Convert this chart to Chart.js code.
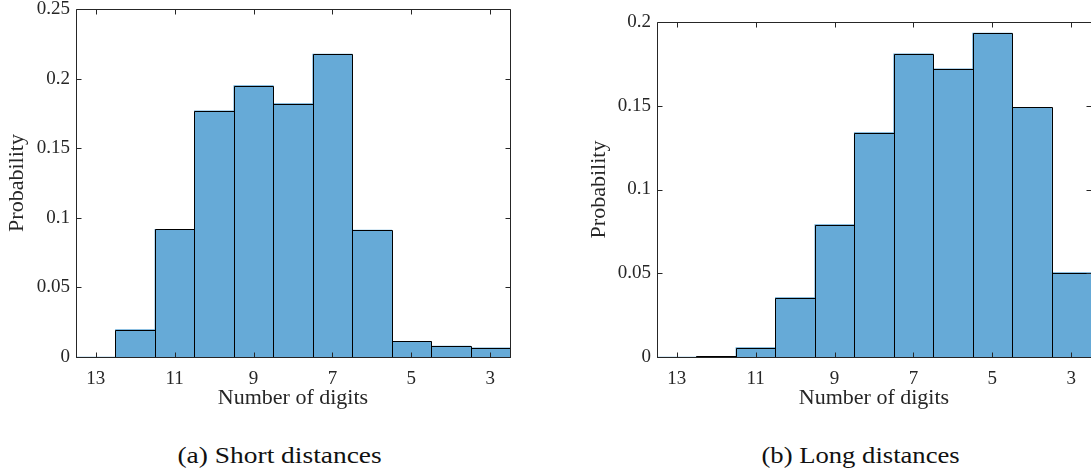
<!DOCTYPE html>
<html>
<head>
<meta charset="utf-8">
<script src="https://cdn.jsdelivr.net/npm/chart.js@4.4.1/dist/chart.umd.min.js"></script>
<style>
  html, body { margin: 0; padding: 0; background: #fff; }
  body { width: 1091px; height: 475px; position: relative; overflow: hidden; }
  canvas { position: absolute; }
  .cap { position: absolute; top: 443px; font-family: "Liberation Serif", serif; font-size: 23px; color: #111;
         white-space: nowrap; transform-origin: center center; }
</style>
</head>
<body>
<canvas id="chartA" width="545" height="420" style="left:0;top:0;"></canvas>
<canvas id="chartB" width="511" height="420" style="left:580px;top:0;"></canvas>
<div class="cap" id="capA">(a) Short distances</div>
<div class="cap" id="capB">(b) Long distances</div>
<script>
// ---- data ----
const digits = [13, 12, 11, 10, 9, 8, 7, 6, 5, 4, 3];
const shortProb = [0, 0.0197, 0.0917, 0.1768, 0.195, 0.182, 0.2176, 0.0912, 0.0113, 0.0079, 0.0065];
const longProb  = [0, 0.0004, 0.0056, 0.0355, 0.0791, 0.134, 0.181, 0.172, 0.1934, 0.149, 0.0504];
const xTickValues = [13, 11, 9, 7, 5, 3];
const yTicksShort = [0, 0.05, 0.1, 0.15, 0.2, 0.25];
const yTicksLong  = [0, 0.05, 0.1, 0.15, 0.2];
const xTitle = 'Number of digits';
const yTitle = 'Probability';

const FONT = '"Liberation Serif", "Times New Roman", serif';
const AXIS_COLOR = '#262626';

const boxPlugin = {
  id: 'boxPlugin',
  afterDatasetsDraw(chart) {
    const { ctx, chartArea: a, scales: { x, y } } = chart;
    ctx.save();
    // bar outlines (from library-computed elements)
    ctx.strokeStyle = '#000';
    ctx.lineWidth = 1;
    const meta = chart.getDatasetMeta(0);
    meta.data.forEach(bar => {
      const p = bar.getProps(['x', 'y', 'base', 'width'], true);
      const l = Math.round(Math.min(p.x - p.width / 2, p.x + p.width / 2)) + 0.5;
      const r = Math.round(Math.max(p.x - p.width / 2, p.x + p.width / 2)) + 0.5;
      const t = Math.round(Math.min(p.y, p.base)) + 0.5;
      const b = Math.round(Math.max(p.y, p.base)) + 0.5;
      ctx.beginPath();
      ctx.rect(l, t, r - l, b - t);
      ctx.stroke();
    });
    // axes box + inward ticks
    ctx.strokeStyle = AXIS_COLOR;
    const L = Math.round(a.left) + 0.5, R = Math.round(a.right) + 0.5;
    const T = Math.round(a.top) + 0.5, B = Math.round(a.bottom) + 0.5;
    ctx.beginPath();
    ctx.rect(L, T, R - L, B - T);
    const tl = 5;
    x.ticks.forEach(tk => {
      const px = Math.round(x.getPixelForValue(tk.value)) + 0.5;
      ctx.moveTo(px, B); ctx.lineTo(px, B - tl);
      ctx.moveTo(px, T); ctx.lineTo(px, T + tl);
    });
    y.ticks.forEach(tk => {
      const py = Math.round(y.getPixelForValue(tk.value)) + 0.5;
      ctx.moveTo(L, py); ctx.lineTo(L + tl, py);
      ctx.moveTo(R, py); ctx.lineTo(R - tl, py);
    });
    ctx.stroke();
    ctx.restore();
  }
};

function makeChart(id, values, yTicks, yMax, opts) {
  return new Chart(document.getElementById(id), {
    type: 'bar',
    data: {
      datasets: [{
        data: digits.map((d, i) => ({ x: d, y: values[i] })),
        backgroundColor: 'rgb(102,170,215)',
        borderWidth: 0,
        barPercentage: 1,
        categoryPercentage: 1
      }]
    },
    options: {
      responsive: false,
      animation: false,
      events: [],
      layout: { padding: opts.padding },
      plugins: { legend: { display: false }, tooltip: { enabled: false } },
      scales: {
        x: {
          type: 'linear',
          reverse: true,
          min: 2.5,
          max: 13.5,
          offset: false,
          afterBuildTicks: s => { s.ticks = xTickValues.map(v => ({ value: v })); },
          afterFit: s => { s.height = 63; s.paddingLeft = 0; s.paddingRight = 0; },
          grid: { display: false, drawTicks: false },
          border: { display: false },
          ticks: {
            padding: 11,
            color: AXIS_COLOR,
            font: { family: FONT, size: 19 },
            maxRotation: 0,
            autoSkip: false,
            callback: v => String(v)
          },
          title: {
            display: true, text: xTitle, color: AXIS_COLOR,
            font: { family: FONT, size: 22 },
            padding: { top: 0, bottom: 9 }
          }
        },
        y: {
          min: 0,
          max: yMax,
          afterBuildTicks: s => { s.ticks = yTicks.map(v => ({ value: v })); },
          afterFit: s => { s.width = opts.yWidth; s.paddingTop = 0; s.paddingBottom = 0; },
          grid: { display: false, drawTicks: false },
          border: { display: false },
          ticks: {
            padding: 6,
            color: AXIS_COLOR,
            font: { family: FONT, size: 19 },
            callback: v => String(v)
          },
          title: {
            display: true, text: yTitle, color: AXIS_COLOR,
            font: { family: FONT, size: 22 },
            padding: { top: opts.titlePad, bottom: 0 }
          }
        }
      }
    },
    plugins: [boxPlugin]
  });
}

makeChart('chartA', shortProb, yTicksShort, 0.25,
  { padding: { top: 9, right: 35, left: 0, bottom: 0 }, yWidth: 76, titlePad: 4.5 });
makeChart('chartB', longProb, yTicksLong, 0.2,
  { padding: { top: 22, right: 0, left: 0, bottom: 0 }, yWidth: 77, titlePad: 6.5 });

// captions: centre and stretch to reference width
function placeCap(id, cx, targetW) {
  const el = document.getElementById(id);
  const w = el.offsetWidth;
  el.style.left = (cx - w / 2) + 'px';
  el.style.transform = 'scaleX(' + (targetW / w) + ')';
}
placeCap('capA', 279, 204);
placeCap('capB', 860, 198);
</script>
</body>
</html>
